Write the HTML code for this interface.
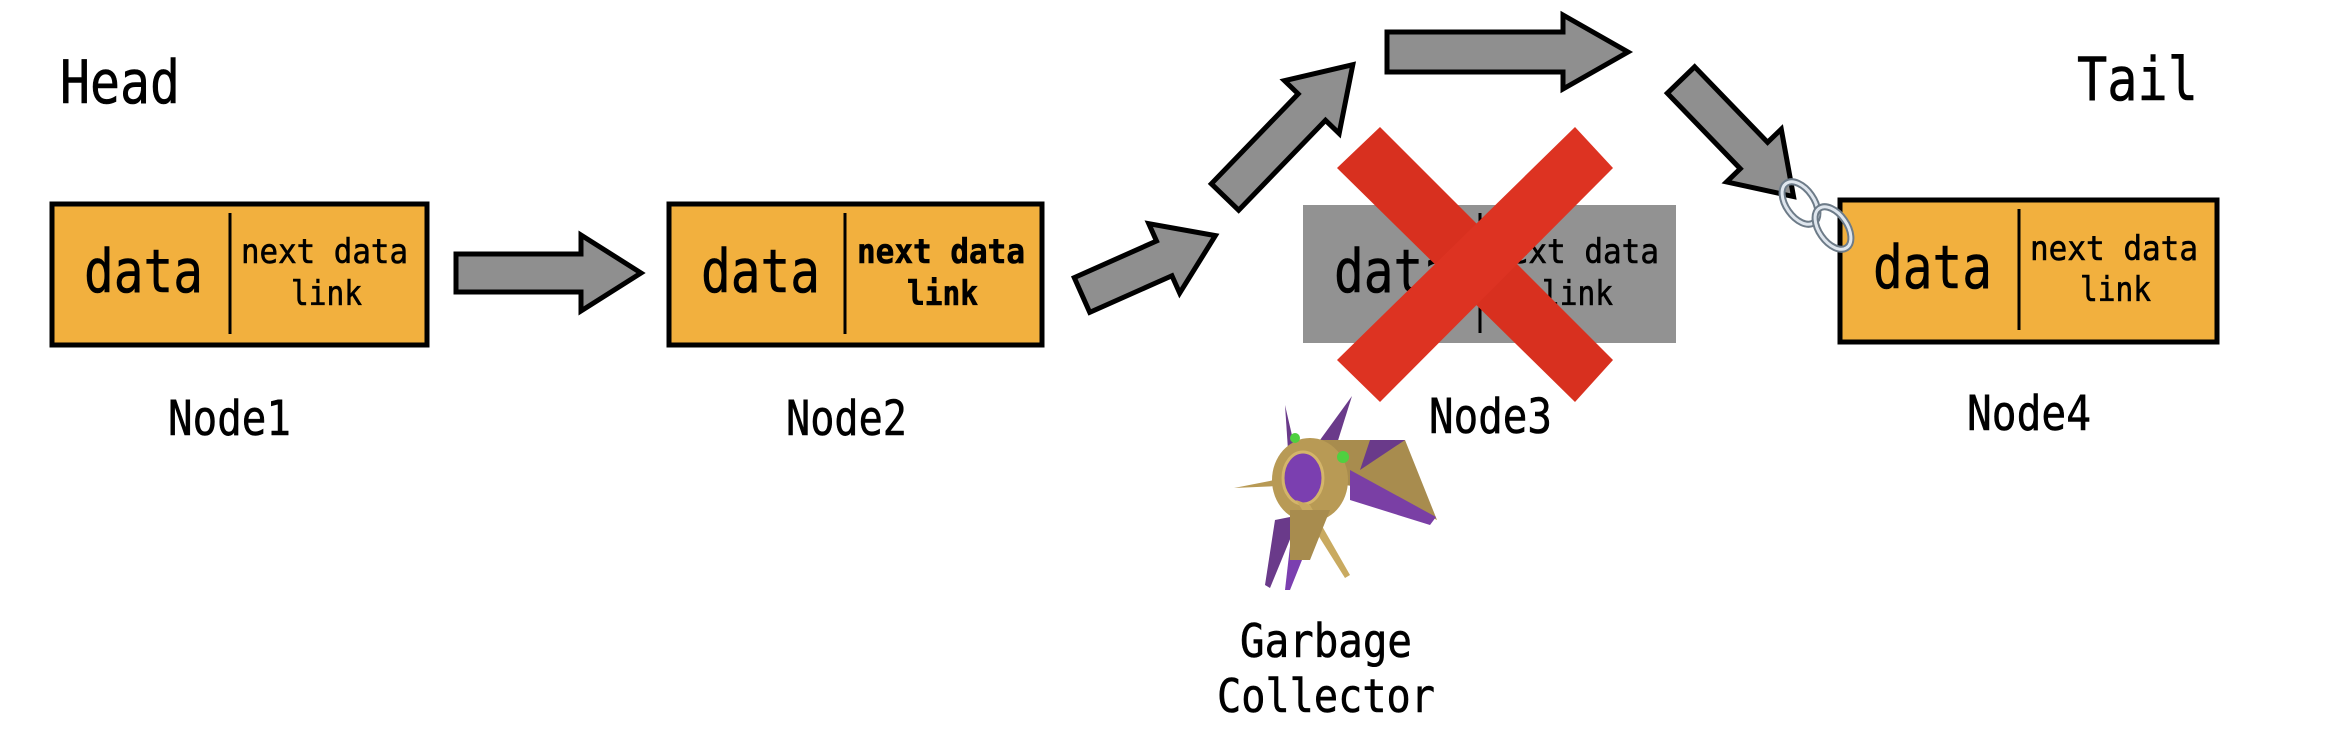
<!DOCTYPE html>
<html><head><meta charset="utf-8"><style>
html,body{margin:0;padding:0;background:#fff;}
svg{display:block;}
text{font-family:"DejaVu Sans Mono","Liberation Mono",monospace;fill:#000;stroke:#000;stroke-width:0.6;}
</style></head><body>
<svg width="2346" height="750" viewBox="0 0 2346 750" xmlns="http://www.w3.org/2000/svg">
<text x="60" y="103" font-size="60" textLength="120" lengthAdjust="spacingAndGlyphs">Head</text>
<text x="2077" y="100" font-size="60" textLength="121" lengthAdjust="spacingAndGlyphs">Tail</text>

<!-- Node1 -->
<rect x="52" y="204" width="375" height="141" fill="#f2b03e" stroke="#000" stroke-width="5"/>
<line x1="230" y1="213" x2="230" y2="334" stroke="#000" stroke-width="3"/>
<text x="84" y="292" font-size="60" textLength="119" lengthAdjust="spacingAndGlyphs">data</text>
<text x="241" y="263" font-size="34" textLength="167" lengthAdjust="spacingAndGlyphs">next data</text>
<text x="291" y="305" font-size="34" textLength="71" lengthAdjust="spacingAndGlyphs">link</text>
<text x="168" y="435" font-size="48" textLength="123" lengthAdjust="spacingAndGlyphs">Node1</text>

<!-- Node2 -->
<rect x="669" y="204" width="373" height="141" fill="#f2b03e" stroke="#000" stroke-width="5"/>
<line x1="845" y1="213" x2="845" y2="334" stroke="#000" stroke-width="3"/>
<text x="701" y="292" font-size="60" textLength="119" lengthAdjust="spacingAndGlyphs">data</text>
<text x="857" y="263" font-size="34" font-weight="bold" textLength="168" lengthAdjust="spacingAndGlyphs">next data</text>
<text x="907" y="305" font-size="34" font-weight="bold" textLength="71" lengthAdjust="spacingAndGlyphs">link</text>
<text x="786" y="435" font-size="48" textLength="121" lengthAdjust="spacingAndGlyphs">Node2</text>

<!-- Node3 (gray) -->
<rect x="1303" y="205" width="373" height="138" fill="#929292"/>
<line x1="1480" y1="213" x2="1480" y2="333" stroke="#000" stroke-width="3"/>
<text x="1334" y="292" font-size="60" textLength="119" lengthAdjust="spacingAndGlyphs">data</text>
<text x="1491" y="263" font-size="34" textLength="168" lengthAdjust="spacingAndGlyphs">next data</text>
<text x="1542" y="305" font-size="34" textLength="71" lengthAdjust="spacingAndGlyphs">link</text>
<text x="1429" y="433" font-size="48" textLength="123" lengthAdjust="spacingAndGlyphs">Node3</text>

<!-- Red X -->
<g>
<polygon points="1337,168 1380,127 1613,360 1575,402" fill="#d8301f"/>
<polygon points="1575,127 1613,168 1380,402 1337,360" fill="#dd3322"/>
</g>

<!-- Node4 -->
<rect x="1840" y="200" width="377" height="142" fill="#f2b03e" stroke="#000" stroke-width="5"/>
<line x1="2019" y1="209" x2="2019" y2="330" stroke="#000" stroke-width="3"/>
<text x="1873" y="288" font-size="60" textLength="119" lengthAdjust="spacingAndGlyphs">data</text>
<text x="2030" y="260" font-size="34" textLength="168" lengthAdjust="spacingAndGlyphs">next data</text>
<text x="2080" y="301" font-size="34" textLength="71" lengthAdjust="spacingAndGlyphs">link</text>
<text x="1967" y="430" font-size="48" textLength="124" lengthAdjust="spacingAndGlyphs">Node4</text>

<!-- Arrows -->
<g fill="#8f8f8f" stroke="#000" stroke-width="5" stroke-linejoin="miter">
<polygon transform="translate(456,273)" points="0,-19 125,-19 125,-38 185,0 125,38 125,19 0,19"/>
<polygon transform="translate(1082,295) rotate(-24)" points="0,-19 90,-19 90,-38 146,0 90,38 90,19 0,19"/>
<polygon transform="translate(1225,197) rotate(-46)" points="0,-19 125,-19 125,-38 184,0 125,38 125,19 0,19"/>
<polygon transform="translate(1387,52)" points="0,-20 176,-20 176,-37 241,0 176,37 176,20 0,20"/>
<polygon transform="translate(1681,80) rotate(46)" points="0,-19 105,-19 105,-38 162,0 105,38 105,19 0,19"/>
</g>

<!-- Chain -->
<g fill="none">
<ellipse cx="1800" cy="203" rx="14" ry="24" transform="rotate(-35 1800 203)" stroke="#6d7b88" stroke-width="7"/>
<ellipse cx="1800" cy="203" rx="14" ry="24" transform="rotate(-35 1800 203)" stroke="#dfe6ee" stroke-width="3"/>
<ellipse cx="1833" cy="228" rx="14" ry="24" transform="rotate(-35 1833 228)" stroke="#6d7b88" stroke-width="7"/>
<ellipse cx="1833" cy="228" rx="14" ry="24" transform="rotate(-35 1833 228)" stroke="#dfe6ee" stroke-width="3"/>
</g>

<!-- Garbage collector ship -->
<g>
<polygon points="1285,405 1300,470 1290,480" fill="#6a3a8a"/>
<polygon points="1352,396 1320,440 1335,450" fill="#6a3a8a"/>
<polygon points="1234,488 1300,475 1300,485" fill="#b89a55"/>
<polygon points="1300,440 1405,440 1437,520 1380,490 1310,480" fill="#a88c4e"/>
<polygon points="1350,470 1436,517 1430,525 1350,500" fill="#7a3fa5"/>
<polygon points="1370,440 1405,440 1360,470" fill="#6a3a8a"/>
<ellipse cx="1310" cy="480" rx="38" ry="42" fill="#b89a55"/>
<ellipse cx="1303" cy="478" rx="20" ry="26" fill="#7b3fb0" stroke="#d4b56a" stroke-width="3"/>
<circle cx="1295" cy="438" r="5" fill="#4fd040"/>
<circle cx="1343" cy="457" r="6" fill="#4fd040"/>
<polygon points="1275,520 1300,515 1270,588 1265,585" fill="#6a3a8a"/>
<polygon points="1293,520 1318,520 1290,590 1285,590" fill="#7b3fb0"/>
<polygon points="1296,500 1310,505 1350,575 1345,578" fill="#c9aa60"/>
<polygon points="1290,510 1330,510 1310,560 1290,560" fill="#a88c4e"/>
</g>
<text x="1240" y="657" font-size="46" textLength="172" lengthAdjust="spacingAndGlyphs">Garbage</text>
<text x="1217" y="712" font-size="46" textLength="218" lengthAdjust="spacingAndGlyphs">Collector</text>
</svg>
</body></html>
